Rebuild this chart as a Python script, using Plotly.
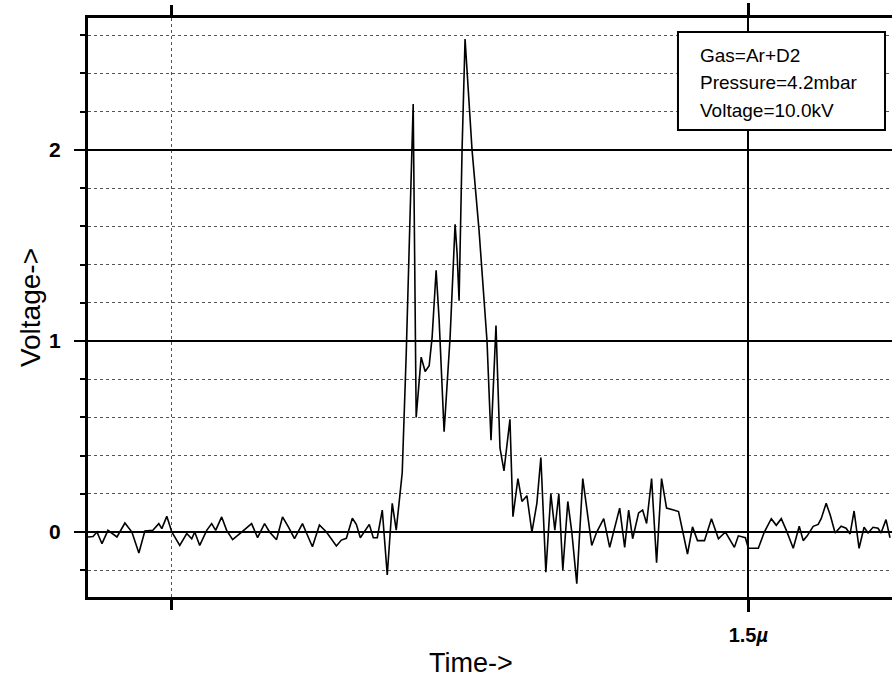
import plotly.graph_objects as go

# time in ns, voltage in V
time_ns = [838, 843, 847, 852, 858, 867, 875, 882, 889, 895, 903, 909, 912, 917, 922, 930, 937, 942, 945, 950,
           957, 962, 966, 972, 977, 983, 992, 1002, 1008, 1015, 1020, 1027, 1033, 1039, 1045, 1053, 1057, 1063,
           1070, 1077, 1087, 1092, 1097, 1103, 1107, 1111, 1120, 1124, 1128, 1133, 1138, 1143, 1147, 1153, 1157,
           1160, 1164, 1167, 1172, 1176, 1180, 1183, 1187, 1190, 1195, 1201, 1206, 1208, 1210, 1213, 1216, 1223,
           1230, 1238, 1242, 1247, 1251, 1255, 1261, 1264, 1269, 1273, 1278, 1283, 1288, 1292, 1297, 1302, 1306,
           1310, 1314, 1319, 1323, 1328, 1334, 1339, 1343, 1348, 1355, 1361, 1371, 1376, 1380, 1384, 1390, 1394,
           1398, 1403, 1408, 1413, 1418, 1425, 1430, 1439, 1444, 1449, 1456, 1463, 1470, 1477, 1486, 1490, 1497,
           1500, 1510, 1516, 1523, 1528, 1533, 1538, 1545, 1551, 1555, 1559, 1565, 1570, 1573, 1578, 1582, 1587,
           1593, 1598, 1602, 1606, 1611, 1616, 1620, 1625, 1630, 1633, 1638, 1642]
voltage = [-0.026, -0.023, 0.0, -0.061, 0.009, -0.026, 0.047, 0.0, -0.11, 0.005, 0.009, 0.044, 0.018, 0.082, 0.0,
           -0.07, -0.008, -0.035, 0.0, -0.07, 0.009, 0.044, 0.009, 0.079, 0.009, -0.04, 0.0, 0.044, -0.029, 0.044,
           0.0, -0.04, 0.079, 0.026, -0.035, 0.044, -0.005, -0.077, 0.037, 0.0, -0.073, -0.042, -0.033, 0.072,
           0.04, -0.03, 0.04, -0.03, -0.03, 0.115, -0.225, 0.15, 0.01, 0.31, 0.93, 1.46, 2.24, 0.6, 0.915, 0.84,
           0.87, 1.02, 1.37, 1.11, 0.525, 1.02, 1.61, 1.46, 1.21, 2.0, 2.58, 2.0, 1.58, 1.0, 0.48, 1.08, 0.44,
           0.32, 0.59, 0.08, 0.28, 0.16, 0.19, 0.0, 0.15, 0.39, -0.21, 0.2, 0.01, 0.2, -0.2, 0.16, 0.0, -0.27,
           0.28, 0.085, -0.07, 0.0, 0.07, -0.08, 0.125, -0.08, 0.115, -0.035, 0.1, 0.115, 0.045, 0.28, -0.16,
           0.28, 0.125, 0.115, 0.107, -0.115, 0.027, -0.045, -0.045, 0.07, -0.035, 0.0, -0.08, -0.02, -0.03,
           -0.085, -0.085, 0.0, 0.07, 0.035, 0.07, 0.01, -0.085, 0.03, -0.045, -0.02, 0.03, 0.04, 0.07, 0.15,
           0.09, -0.005, 0.03, 0.02, -0.01, 0.11, -0.085, 0.025, -0.005, 0.025, 0.02, -0.005, 0.065, -0.03]

x_tick_vals = [1500]
x_tick_text = ["1.5<i>µ</i>"]
x_minor_vals = [922]
y_tick_vals = [0, 1, 2]
y_tick_text = ["0", "1", "2"]
info_lines = ["Gas=Ar+D2", "Pressure=4.2mbar", "Voltage=10.0kV"]

FONT = "Liberation Sans, Arial, Helvetica, sans-serif"

fig = go.Figure()
fig.add_trace(go.Scatter(x=time_ns, y=voltage, mode="lines",
                         line=dict(color="black", width=1.6), showlegend=False))

fig.update_layout(
    width=892, height=686,
    margin=dict(l=88, r=0, t=18, b=89),
    paper_bgcolor="white", plot_bgcolor="white",
    font=dict(family=FONT, color="black"),
    showlegend=False,
)

fig.update_xaxes(
    range=[838, 1644],
    tickmode="array", tickvals=x_tick_vals, ticktext=x_tick_text,
    tickfont=dict(size=20, family=FONT, weight="bold"),
    ticks="outside", ticklen=12, tickwidth=3, tickcolor="black",
    ticklabelstandoff=6,
    showgrid=True, gridcolor="black", gridwidth=2,
    minor=dict(tickmode="array", tickvals=x_minor_vals, ticks="outside", ticklen=10,
               tickwidth=3, tickcolor="black", showgrid=True, gridcolor="#555",
               gridwidth=1, griddash="dot"),
    showline=True, linecolor="black", linewidth=3, mirror="allticks",
    zeroline=False,
)

fig.update_yaxes(
    range=[-0.34, 2.69],
    tickmode="array", tickvals=y_tick_vals, ticktext=y_tick_text,
    tickfont=dict(size=21, family=FONT, weight="bold"),
    ticks="outside", ticklen=11, tickwidth=2, tickcolor="black",
    ticklabelstandoff=9,
    showgrid=True, gridcolor="black", gridwidth=2,
    minor=dict(dtick=0.2, tick0=0, ticks="outside", ticklen=5, tickwidth=2,
               tickcolor="black", showgrid=True, gridcolor="#555",
               gridwidth=1, griddash="dot"),
    showline=True, linecolor="black", linewidth=3, mirror=False,
    zeroline=False,
)

# info box
fig.add_shape(type="rect", xref="paper", yref="paper",
              x0=0.7338, x1=0.9913, y0=0.8066, y1=0.9758,
              line=dict(color="black", width=2), fillcolor="white", layer="above")
for txt, yy in zip(info_lines, [0.936, 0.888, 0.841]):
    fig.add_annotation(text=txt, xref="paper", yref="paper", x=0.7587, y=yy,
                       xanchor="left", yanchor="middle", showarrow=False,
                       font=dict(size=19, family=FONT, color="black"))

# axis titles
fig.add_annotation(text="Time->", xref="paper", yref="paper", x=0.476, y=-0.114,
                   xanchor="center", yanchor="middle", showarrow=False,
                   font=dict(size=27, family=FONT, color="black"))
fig.add_annotation(text="Voltage->", xref="paper", yref="paper", x=-0.0721, y=0.499,
                   xanchor="center", yanchor="middle", showarrow=False, textangle=-90,
                   font=dict(size=28, family=FONT, color="black"))

fig.write_html("out.html")
